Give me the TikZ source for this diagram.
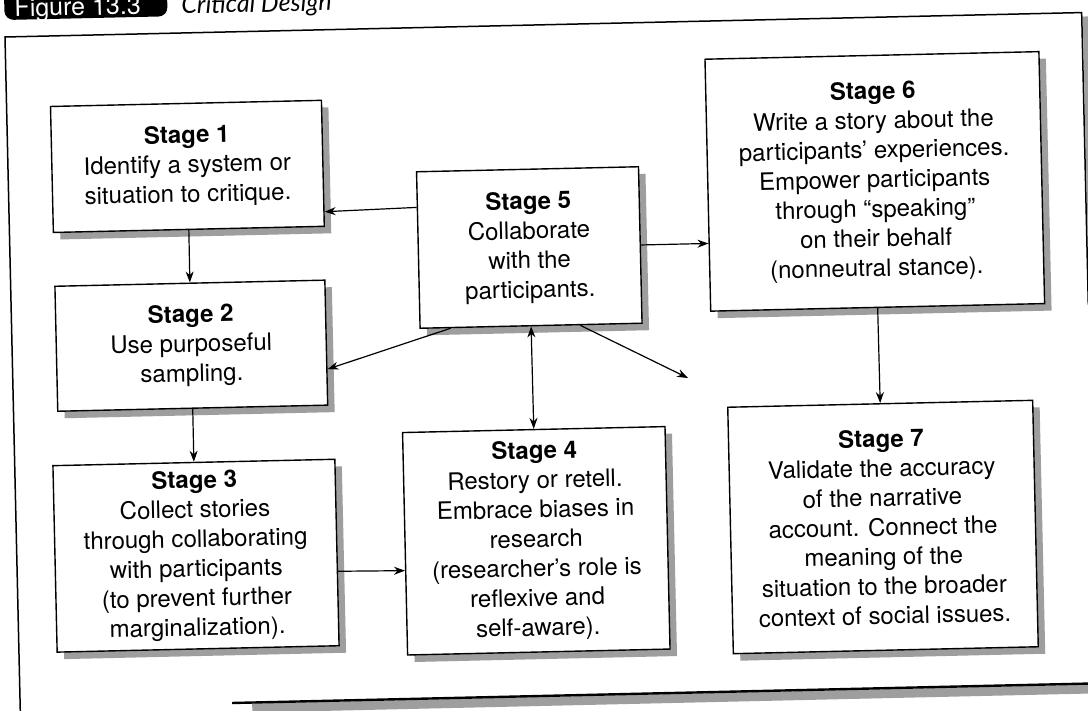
\documentclass[tikz,border=0pt]{standalone}
\usepackage{fontspec}
\setmainfont{TeX Gyre Heros}
\newfontfamily\captionfont{Lato}
\usetikzlibrary{arrows.meta,calc,shadows}

\begin{document}
\begin{tikzpicture}[x=1pt,y=-1pt,
  stagebox/.style={draw=black, line width=1.4pt, fill=white, rotate=1.3,
    inner sep=0pt, align=center,
    font=\fontsize{24}{29.5}\selectfont,
    general shadow={fill=black!38, shadow xshift=7pt, shadow yshift=-7pt}},
  link/.style={line width=1.2pt, -{Stealth[length=11pt,width=8pt]}},
  twoway/.style={line width=1.2pt, {Stealth[length=11pt,width=8pt]}-{Stealth[length=11pt,width=8pt]}},
  frameline/.style={line width=1.5pt, black},
  frameshade/.style={fill=black!38},
]
\useasboundingbox (0,0) rectangle (1088,711);
\fill[white] (0,0) rectangle (1088,711);

% outer frame with its caption tab
\begin{scope}[shift={(5,37)}, rotate=1.3, transform shape]
  \fill[black, rounded corners=9pt] (0,-80) rectangle (163,-17);
  \node[anchor=base west, inner sep=0pt, text=white,
        font=\fontsize{25}{30}\selectfont] (fignum) at (10,-20) {Figure 13.3};
  \node[anchor=base west, inner sep=0pt,
        font=\captionfont\itshape\fontsize{25}{30}\selectfont] (figtitle) at (177,-19) {Critical Design};
  \fill[frameshade] (1078,4) rectangle (1087,292);
  \fill[frameshade] (232,672) rectangle (1110,681);
  \draw[frameline] (0,720) -- (0,0) -- (1077,0) -- (1077,292);
  \draw[black, line width=2.4pt] (212,671) -- (1110,671);
\end{scope}

% stages
\node[stagebox, minimum width=271pt, minimum height=126pt] (s1) at (187.4,166.4)
  {\textbf{Stage 1}\\Identify a system or\\situation to critique.};
\node[stagebox, minimum width=270pt, minimum height=125pt] (s2) at (191.3,345.7)
  {\textbf{Stage 2}\\Use purposeful\\sampling.};
\node[stagebox, minimum width=282pt, minimum height=186.5pt] (s3) at (196,555.7)
  {\textbf{Stage 3}\\Collect stories\\through collaborating\\with participants\\(to prevent further\\marginalization).};
\node[stagebox, minimum width=262.5pt, minimum height=222.5pt] (s4) at (536.3,540.8)
  {\textbf{Stage 4}\\Restory or retell.\\Embrace biases in\\research\\(researcher’s role is\\reflexive and\\self-aware).};
\node[stagebox, minimum width=222pt, minimum height=156.5pt] (s5) at (529.3,247.5)
  {\textbf{Stage 5}\\Collaborate\\with the\\participants.};
\node[stagebox, minimum width=334pt, minimum height=252pt] (s6) at (874.8,181.4)
  {\textbf{Stage 6}\\Write a story about the\\participants’ experiences.\\Empower participants\\through “speaking”\\on their behalf\\(nonneutral stance).};
\node[stagebox, minimum width=305pt, minimum height=246.5pt] (s7) at (883,527)
  {\textbf{Stage 7}\\Validate the accuracy\\of the narrative\\account. Connect the\\meaning of the\\situation to the broader\\context of social issues.};

\coordinate (e5) at (688,378);

% connectors
\draw[link] ($(s5.north west)!0.23!(s5.south west)$) -- ($(s1.north east)!0.88!(s1.south east)$);
\draw[link] (s1.south) -- (s2.north);
\draw[link] ($(s5.south west)!0.14!(s5.south east)$) -- ($(s2.north east)!0.71!(s2.south east)$);
\draw[twoway] (s5.south) -- (s4.north);
\draw[link] ($(s5.south west)!0.72!(s5.south east)$) -- (e5);
\draw[link] (s5.east) -- ($(s6.north west)!0.73!(s6.south west)$);
\draw[link] (s6.south) -- (s7.north);
\draw[link] (s2.south) -- (s3.north);
\draw[link] ($(s3.north east)!0.6!(s3.south east)$) -- ($(s4.north west)!0.62!(s4.south west)$);
\end{tikzpicture}
\end{document}
